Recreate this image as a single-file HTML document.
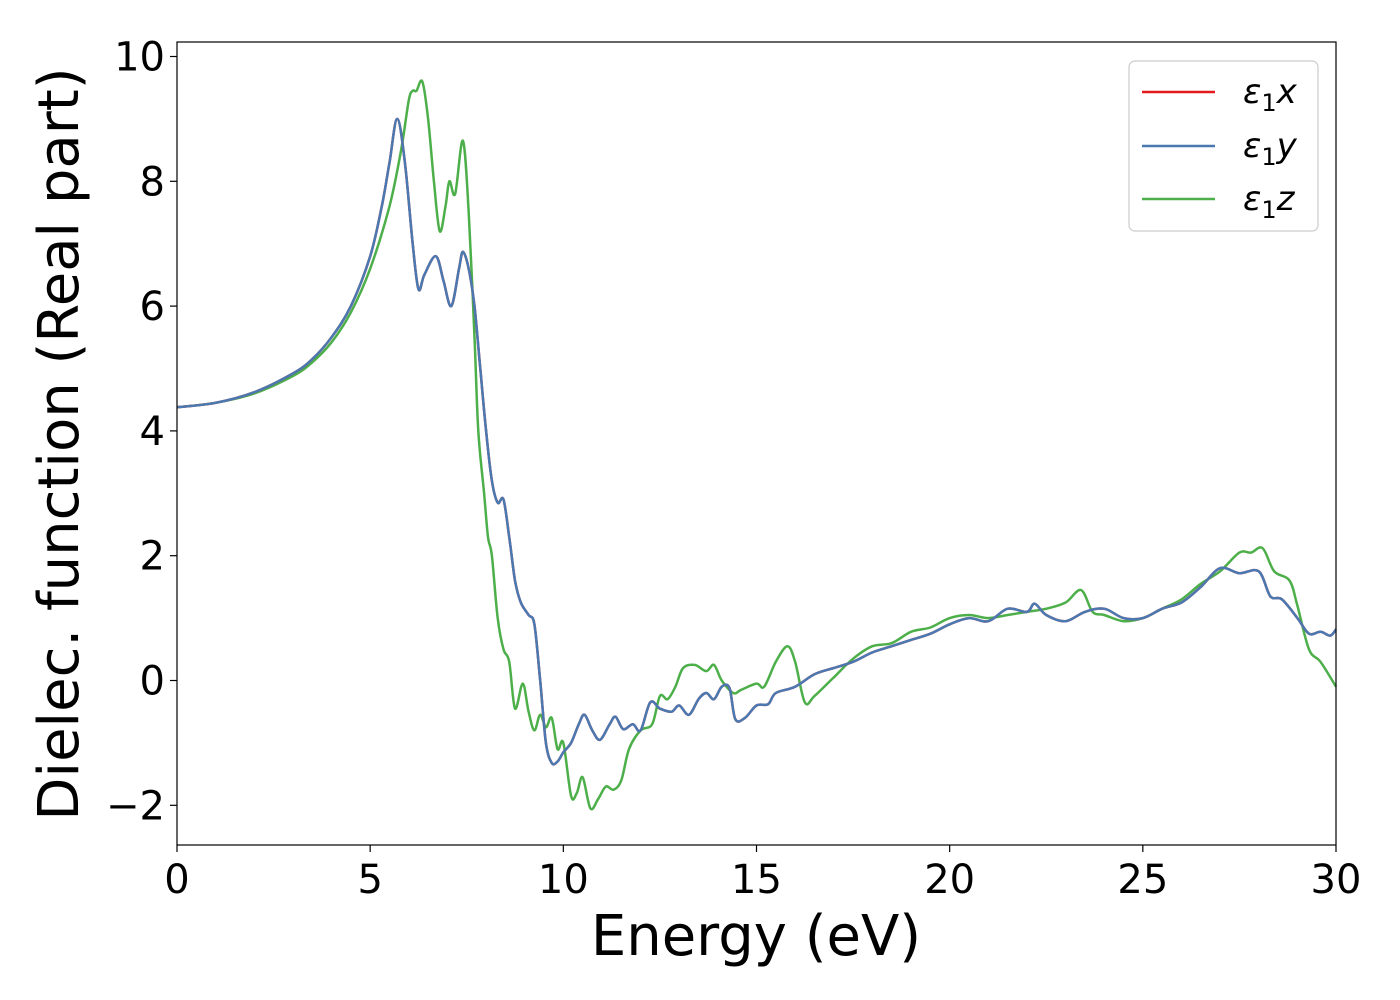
<!DOCTYPE html>
<html><head><meta charset="utf-8"><style>
body{margin:0;background:#fff;}
svg{display:block;font-family:"DejaVu Sans","Liberation Sans",sans-serif;}
</style></head><body>
<svg id="chart" width="1400" height="1000" viewBox="0 0 1400 1000">
<rect width="1400" height="1000" fill="#fff"/>
<g id="ticks"></g>
<g id="series"></g>
<rect x="177" y="42" width="1159" height="803" fill="none" stroke="#000" stroke-width="1.2"/>
<text x="756" y="955" font-size="56" text-anchor="middle">Energy (eV)</text>
<text transform="translate(78,444) rotate(-90)" font-size="56" text-anchor="middle">Dielec. function (Real part)</text>
<g>
<rect x="1129" y="61" width="189" height="170" rx="6" fill="#fff" stroke="#ccc" stroke-width="1.2"/>
<line x1="1142" y1="92" x2="1215" y2="92" stroke="#e41a1c" stroke-width="2.5"/>
<text x="1243" y="103" font-size="34" font-style="italic">ε<tspan font-size="24" font-style="normal" dy="8">1</tspan><tspan dy="-8">x</tspan></text>
<line x1="1142" y1="146" x2="1215" y2="146" stroke="#4a79b1" stroke-width="2.5"/>
<text x="1243" y="157" font-size="34" font-style="italic">ε<tspan font-size="24" font-style="normal" dy="8">1</tspan><tspan dy="-8">y</tspan></text>
<line x1="1142" y1="199" x2="1215" y2="199" stroke="#4daf4a" stroke-width="2.5"/>
<text x="1243" y="210" font-size="34" font-style="italic">ε<tspan font-size="24" font-style="normal" dy="8">1</tspan><tspan dy="-8">z</tspan></text>
</g>
</svg>
<script>
const xTicks=[0,5,10,15,20,25,30];
const yTicks=[-2,0,2,4,6,8,10];
const yTickLabels=["−2","0","2","4","6","8","10"];
const lowE=[0,1,2,3,3.5,4,4.5,5];
const xyE=[5.3,5.5,5.7,5.9,6.1,6.25,6.4,6.7,6.9,7.1,7.3,7.4,7.55,7.7,7.85,8.0,8.15,8.3,8.45,8.6,8.75,8.9,9.1,9.25,9.4,9.55,9.7,9.85,10.0,10.2,10.4,10.55,10.75,10.95,11.2,11.35,11.55,11.8,12.0,12.25,12.5,12.8,13.0,13.25,13.5,13.7,13.9,14.1,14.3,14.45,14.7,15.0,15.3,15.5,16.0,16.5,17.0,17.5,18.0,18.5,19.0,19.5,20.0,20.5,21.0,21.5,22.0,22.2,22.5,23.0,23.5,24.0,24.5,25.0,25.5,26.0,26.5,27.0,27.5,28.0,28.3,28.6,29.0,29.3,29.6,29.85,30.0];
const xyLow=[4.38,4.45,4.62,4.92,5.15,5.5,6.0,6.8];
const xyV=[7.6,8.3,9.0,8.3,7.0,6.27,6.5,6.8,6.4,6.0,6.6,6.87,6.6,6.0,5.0,4.0,3.2,2.85,2.9,2.3,1.6,1.25,1.05,0.9,0.0,-1.0,-1.32,-1.3,-1.15,-1.0,-0.7,-0.55,-0.8,-0.95,-0.7,-0.58,-0.78,-0.7,-0.8,-0.35,-0.45,-0.5,-0.4,-0.55,-0.3,-0.2,-0.3,-0.1,-0.12,-0.62,-0.6,-0.4,-0.38,-0.2,-0.1,0.1,0.2,0.3,0.45,0.55,0.65,0.75,0.9,1.0,0.95,1.15,1.1,1.23,1.05,0.95,1.1,1.15,1.0,1.0,1.15,1.25,1.5,1.8,1.72,1.75,1.35,1.3,1.0,0.75,0.78,0.72,0.82];
const zE=[5.5,5.8,6.0,6.1,6.2,6.35,6.5,6.65,6.8,6.95,7.05,7.2,7.4,7.55,7.7,7.8,7.95,8.05,8.15,8.3,8.45,8.6,8.75,8.95,9.1,9.25,9.4,9.55,9.7,9.85,10.0,10.2,10.35,10.5,10.7,10.9,11.1,11.3,11.5,11.7,12.0,12.3,12.5,12.7,12.9,13.1,13.4,13.7,13.9,14.1,14.4,14.6,15.0,15.2,15.5,15.8,16.0,16.25,16.5,17.0,17.5,18.0,18.5,19.0,19.5,20.0,20.5,21.0,21.5,22.0,22.5,23.0,23.4,23.7,24.0,24.5,25.0,25.5,26.0,26.5,27.0,27.5,27.8,28.1,28.4,28.8,29.0,29.3,29.6,30.0];
const zLow=[4.38,4.45,4.6,4.88,5.1,5.42,5.9,6.6];
const zV=[7.6,8.5,9.3,9.45,9.45,9.6,9.0,8.0,7.2,7.6,8.0,7.8,8.65,7.5,5.5,4.0,3.0,2.3,2.0,1.0,0.5,0.3,-0.45,-0.05,-0.5,-0.8,-0.55,-0.75,-0.6,-1.1,-1.0,-1.85,-1.8,-1.55,-2.05,-1.9,-1.7,-1.75,-1.6,-1.1,-0.8,-0.7,-0.25,-0.3,-0.1,0.2,0.25,0.15,0.25,0.0,-0.2,-0.15,-0.05,-0.1,0.3,0.55,0.3,-0.35,-0.25,0.05,0.35,0.55,0.6,0.78,0.85,1.0,1.05,1.0,1.05,1.1,1.15,1.25,1.45,1.1,1.05,0.95,1.0,1.15,1.3,1.55,1.75,2.05,2.05,2.12,1.75,1.6,1.2,0.5,0.3,-0.1];
const X=e=>177+e*(1159/30);
const Y=v=>680.5-v*62.4;
const NS="http://www.w3.org/2000/svg";
const tg=document.getElementById('ticks');
function mk(tag,attrs,parent){const el=document.createElementNS(NS,tag);for(const k in attrs)el.setAttribute(k,attrs[k]);parent.appendChild(el);return el;}
xTicks.forEach(t=>{
 const l=mk('line',{x1:X(t),x2:X(t),y1:845,y2:852,stroke:'#000','stroke-width':1.2},tg);
 
 
 const tx=mk('text',{x:X(t),y:893,'font-size':40,'text-anchor':'middle'},tg);
 tx.textContent=t;
 
 
});
yTicks.forEach((t,i)=>{
 const l=mk('line',{x1:170,x2:177,y1:Y(t),y2:Y(t),stroke:'#000','stroke-width':1.2},tg);
 
 
 const tx=mk('text',{x:165,y:Y(t)+14,'font-size':40,'text-anchor':'end'},tg);
 tx.textContent=yTickLabels[i];
 
 
});
function pathD(es,vs){
 const p=es.map((e,i)=>[X(e),Y(vs[i])]);
 let d='M'+p[0][0].toFixed(1)+','+p[0][1].toFixed(1);
 for(let i=0;i<p.length-1;i++){
  const p0=p[i-1]||p[i],p1=p[i],p2=p[i+1],p3=p[i+2]||p2;
  const c1=[p1[0]+(p2[0]-p0[0])/6,p1[1]+(p2[1]-p0[1])/6];
  const c2=[p2[0]-(p3[0]-p1[0])/6,p2[1]-(p3[1]-p1[1])/6];
  d+='C'+c1.map(n=>n.toFixed(1))+' '+c2.map(n=>n.toFixed(1))+' '+p2[0].toFixed(1)+','+p2[1].toFixed(1);
 }
 return d;
}
const sg=document.getElementById('series');
const allXY=lowE.concat(xyE), allXYV=xyLow.concat(xyV);
const allZ=lowE.concat(zE), allZV=zLow.concat(zV);
const pz=mk('path',{d:pathD(allZ,allZV),fill:'none',stroke:'#4daf4a','stroke-width':2.5},sg);


const px=mk('path',{d:pathD(allXY,allXYV),fill:'none',stroke:'#e41a1c','stroke-width':2.5},sg);


const py=mk('path',{d:pathD(allXY,allXYV),fill:'none',stroke:'#4a79b1','stroke-width':2.5},sg);


</script>
</body></html>
